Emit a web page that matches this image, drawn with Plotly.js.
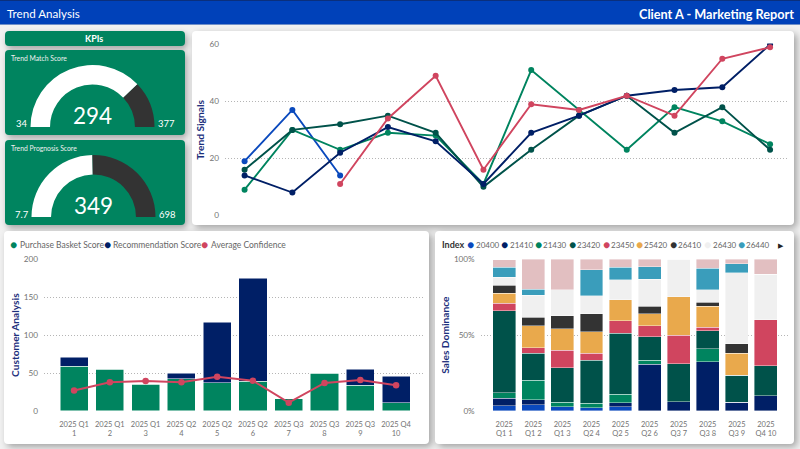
<!DOCTYPE html>
<html><head><meta charset="utf-8">
<script src="https://cdn.plot.ly/plotly-3.0.1.min.js"></script>
<style>
html,body{margin:0;padding:0;width:800px;height:449px;overflow:hidden;background:#f1f1f1}
.c{position:absolute;border-radius:4px;box-sizing:border-box}
.w{background:#fff;box-shadow:3px 3px 7px rgba(0,0,0,.32)}
.g{background:#00845f;box-shadow:2px 3px 6px rgba(0,0,0,.32)}
#hd{position:absolute;left:0;top:0;width:800px;height:25px;background:#0041b9;border-top:1px solid #0a2f7d;box-sizing:border-box;border-bottom:1px solid #6f8fc8}
#chart{position:absolute;left:0;top:0;width:800px;height:449px}
</style></head><body>
<div id="hd"></div>
<div class="c g" style="left:4.5px;top:30.5px;width:180px;height:15px"></div>
<div class="c g" style="left:4.5px;top:50px;width:180px;height:84.5px"></div>
<div class="c g" style="left:4.5px;top:140px;width:180px;height:84.5px"></div>
<div class="c w" style="left:192px;top:31px;width:602px;height:194px"></div>
<div class="c w" style="left:4px;top:231px;width:425px;height:213px"></div>
<div class="c w" style="left:435px;top:231px;width:359px;height:213px"></div>
<div id="chart"></div>
<script>
const trendX = ['1','2','3','4','5','6','7','8','9','10','11','12'];
const trend20400 = [19,37,14,null,null,null,null,null,null,null,null,null];
const trend21410 = [14,8,22,31,26,11,29,35,42,44,45,60];
const trend21430 = [9,30,23,29,28,11,51,37,23,38,33,25];
const trend23420 = [16,30,32,35,29,10,23,35,42,29,38,23];
const trend23450 = [null,null,11,34,49,16,39,37,42,35,55,59];

const customX = ['2025 Q1<br>1','2025 Q1<br>2','2025 Q1<br>3','2025 Q2<br>4','2025 Q2<br>5','2025 Q2<br>6','2025 Q3<br>7','2025 Q3<br>8','2025 Q3<br>9','2025 Q4<br>10'];
const purchaseBasket = [59,55,35,42.6,37,39,16,50,34,11];
const recommendation = [12,1,1,7.4,80,136,0,0.5,21,35];
const avgConfidence = [27,38,39.5,38,45,40,11,37,41,34];

const salesX = ['2025<br>Q1 1','2025<br>Q1 2','2025<br>Q1 3','2025<br>Q2 4','2025<br>Q2 5','2025<br>Q2 6','2025<br>Q3 7','2025<br>Q3 8','2025<br>Q3 9','2025<br>Q4 10'];
const sales20400 = [3.5,4,2.9,2.2,2.9,0,0,0,0,0];
const sales21410 = [4.8,3.3,0,0,2.6,30.8,6.2,32.5,5.7,10.1];
const sales21430 = [3.7,13.1,3,2.8,5.7,2.8,0,8.6,0,0];
const sales23420 = [54,17.8,22.7,28.4,40.2,15.2,25,11.9,17.8,19.8];
const sales23450 = [5,3.5,11.4,4.8,8.2,7.5,18.7,2.2,0,30.1];
const sales25420 = [6.6,14.5,14.3,14.1,13.6,7.7,25.3,14,14.7,0];
const sales26410 = [5.3,5.5,8.6,11.9,0,5.2,0,2.4,6,0];
const sales26430 = [5.3,14.7,17.1,11.8,13.4,17.8,24.8,8.2,47,30.1];
const sales26440 = [6.6,3.7,0,17,8.1,8,0,14.2,5.8,0];
const sales26450 = [5,19.8,20,7,5.3,5,0,6,3,9.9];
const salesNames = ['20400','21410','21430','23420','23450','25420','26410','26430','26440','26450'];
const salesColors = ['#0a49bd','#001f66','#00845f','#00524a','#d0455f','#e9a94c','#333333','#f0f0f0','#3a9dbb','#e2bfc1'];

const gaugeMatch = {min:34,value:294,max:377};
const gaugePrognosis = {min:7.7,value:349,max:698};

const W=800,H=449;
const px=x=>x/W, py=y=>1-y/H;
const FONT='Lato, sans-serif';
const NAVY='#1b2f7c', GREY='#737373';

const lineStyle=(name,y,color)=>({type:'scatter',mode:'lines+markers',name,x:trendX,y,xaxis:'x',yaxis:'y',
  line:{color,width:1.9},marker:{color,size:6},showlegend:false,hoverinfo:'skip',connectgaps:false});

const data=[
  lineStyle('20400',trend20400,salesColors[0]),
  lineStyle('21430',trend21430,salesColors[2]),
  lineStyle('23420',trend23420,salesColors[3]),
  lineStyle('21410',trend21410,salesColors[1]),
  lineStyle('23450',trend23450,salesColors[4]),
  {type:'bar',name:'Purchase Basket Score',x:customX,y:purchaseBasket,xaxis:'x2',yaxis:'y2',marker:{color:'#00845f',line:{color:'#ffffff',width:0.5}},showlegend:false,hoverinfo:'skip'},
  {type:'bar',name:'Recommendation Score',x:customX,y:recommendation,xaxis:'x2',yaxis:'y2',marker:{color:'#001f66',line:{color:'#ffffff',width:0.5}},showlegend:false,hoverinfo:'skip'},
  {type:'scatter',mode:'lines+markers',name:'Average Confidence',x:customX,y:avgConfidence,xaxis:'x2',yaxis:'y2',line:{color:'#d0455f',width:2},marker:{color:'#d0455f',size:6.5},showlegend:false,hoverinfo:'skip'}
];
[sales20400,sales21410,sales21430,sales23420,sales23450,sales25420,sales26410,sales26430,sales26440,sales26450].forEach((v,i)=>{
  data.push({type:'bar',name:salesNames[i],x:salesX,y:v,xaxis:'x3',yaxis:'y3',marker:{color:salesColors[i],line:{color:'#ffffff',width:0.4}},showlegend:false,hoverinfo:'skip'});
});
function gauge(g,cx,bottom,r){
  return {type:'pie',sort:false,direction:'clockwise',rotation:270,hole:0.685,
    values:[g.value-g.min,g.max-g.value,g.max-g.min],
    marker:{colors:['#ffffff','#333333','rgba(0,0,0,0)'],line:{width:0}},
    textinfo:'none',hoverinfo:'skip',showlegend:false,
    domain:{x:[px(cx-r),px(cx+r)],y:[py(bottom+r),py(bottom-r)]}};
}
data.push(gauge(gaugeMatch,92.5,127,62));
data.push(gauge(gaugePrognosis,93.5,217,62));

const ann=(text,x,y,size,color,opts={})=>Object.assign({text,x:px(x),y:py(y),xref:'paper',yref:'paper',showarrow:false,
  xanchor:'left',yanchor:'middle',font:{family:FONT,size,color},borderpad:0},opts);
const annotations=[
  ann('Trend Analysis',6,13.5,11.6,'#fff'),
  ann('<b>Client A - Marketing Report</b>',795,13.5,12.7,'#fff',{xanchor:'right'}),
  ann('<b>KPIs</b>',94,38,9,'#fff',{xanchor:'center'}),
  ann('Trend Match Score',10,58,6.8,'#f0f0f0'),
  ann('Trend Prognosis Score',10,148,6.8,'#f0f0f0'),
  ann(String(gaugeMatch.value),92.5,115,22.5,'#fff',{xanchor:'center'}),
  ann(String(gaugeMatch.min),21.5,124,9.5,'#fff',{xanchor:'center'}),
  ann(String(gaugeMatch.max),166,124,9.5,'#fff',{xanchor:'center'}),
  ann(String(gaugePrognosis.value),93.5,205,22.5,'#fff',{xanchor:'center'}),
  ann(String(gaugePrognosis.min),21.5,214,9.5,'#fff',{xanchor:'center'}),
  ann(String(gaugePrognosis.max),167,214,9.5,'#fff',{xanchor:'center'})
];
[['Purchase Basket Score','#00845f',13.7],['Recommendation Score','#001f66',107],['Average Confidence','#d0455f',205]].forEach(([t,c,x])=>{
  annotations.push(ann('●',x,244.5,12,c,{xanchor:'center'}));
  annotations.push(ann(t,x+4.8,245,8.5,'#666'));
});
annotations.push(ann('<b>Index</b>',440.5,245,9,'#333'));
const legendX=[470.7,504.3,538,572,606,639,673,707.3,741];
legendX.forEach((x,i)=>{
  annotations.push(ann('●',x,244.5,12,salesColors[i],{xanchor:'center'}));
  annotations.push(ann(salesNames[i],x+4.4,245,8,'#666'));
});
annotations.push(ann('▶',780.7,244.5,7,'#222',{xanchor:'center'}));

const gridCommon={gridcolor:'#b5b5b5',griddash:'1px,2px',gridwidth:1,zeroline:false,showline:false,ticks:'',ticklabelstandoff:5,tickfont:{family:FONT,size:8.2,color:GREY},automargin:false};
const xCommon={showgrid:false,showline:false,zeroline:false,ticks:'',ticklabelstandoff:6,tickfont:{family:FONT,size:7.5,color:GREY},automargin:false,type:'category',tickangle:0};
const yTitle=(text,standoff)=>({text:'<b>'+text+'</b>',standoff,font:{family:FONT,size:10.2,color:NAVY}});

const layout={
  width:W,height:H,margin:{l:0,r:0,t:0,b:0,pad:0},paper_bgcolor:'rgba(0,0,0,0)',plot_bgcolor:'rgba(0,0,0,0)',
  barmode:'stack',bargap:0.215,font:{family:FONT},hovermode:false,annotations,
  xaxis:Object.assign({},xCommon,{domain:[px(225),px(788.7)],anchor:'y',range:[-0.41,11.39],showticklabels:false,categoryorder:'array',categoryarray:trendX}),
  yaxis:Object.assign({},gridCommon,{domain:[py(216.3),py(43.5)],anchor:'x',range:[-0.35,60.35],tickvals:[0,20,40,60],ticktext:['0','20','40','60'],title:yTitle('Trend Signals',2)}),
  xaxis2:Object.assign({},xCommon,{domain:[px(44),px(424)],anchor:'y2',range:[-0.84,9.78],categoryorder:'array',categoryarray:customX}),
  yaxis2:Object.assign({},gridCommon,{domain:[py(412),py(258.3)],anchor:'x2',range:[-1.32,201.32],tickvals:[0,50,100,150,200],ticktext:['0','50','100','150','200'],title:yTitle('Customer Analysis',2)}),
  xaxis3:Object.assign({},xCommon,{domain:[px(480.7),px(788)],anchor:'y3',range:[-0.81,9.76],categoryorder:'array',categoryarray:salesX}),
  yaxis3:Object.assign({},gridCommon,{domain:[py(412),py(258.3)],anchor:'x3',range:[-0.66,100.66],tickvals:[0,50,100],ticktext:['0%','50%','100%'],title:yTitle('Sales Dominance',2)})
};
Plotly.newPlot('chart',data,layout,{displayModeBar:false,responsive:false,staticPlot:true});
</script>
</body></html>
